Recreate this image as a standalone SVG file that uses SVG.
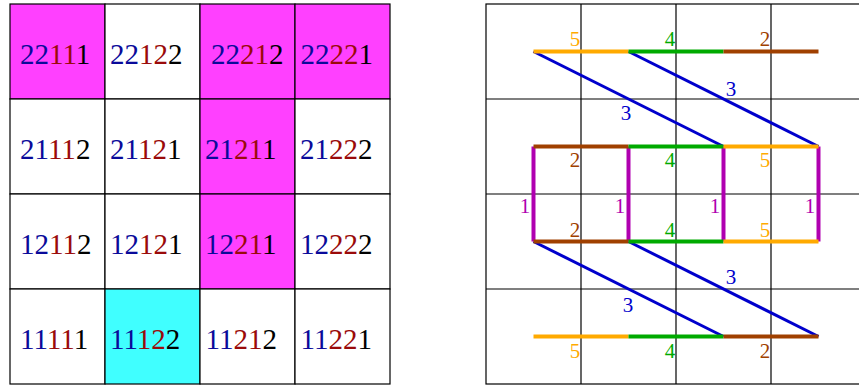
<svg xmlns="http://www.w3.org/2000/svg" width="859" height="388" viewBox="0 0 859 388">
<style>
.cell{stroke:#000;stroke-width:1.2}
.t{font-family:"Liberation Serif","Times New Roman",serif;font-size:29px}
.b{fill:#0a0a9a}.r{fill:#9a0a0a}.k{fill:#000}
.grid{stroke:#000;stroke-width:1.2;fill:none}
.lab{font-family:"Liberation Serif","Times New Roman",serif;font-size:21px;text-anchor:middle}
</style>
<rect width="859" height="388" fill="#fff"/>
<g id="left-grid">
<g id="c22111"><rect class="cell" x="10" y="4" width="95" height="95" fill="#ff40ff"/><text class="t" x="20" y="63.5"><tspan class="b">22</tspan><tspan class="r">11</tspan><tspan class="k">1</tspan></text></g>
<g id="c22122"><rect class="cell" x="105" y="4" width="95" height="95" fill="#fff"/><text class="t" x="110" y="63.5"><tspan class="b">22</tspan><tspan class="r">12</tspan><tspan class="k">2</tspan></text></g>
<g id="c22212"><rect class="cell" x="200" y="4" width="95" height="95" fill="#ff40ff"/><text class="t" x="211" y="63.5"><tspan class="b">22</tspan><tspan class="r">21</tspan><tspan class="k">2</tspan></text></g>
<g id="c22221"><rect class="cell" x="295" y="4" width="95" height="95" fill="#ff40ff"/><text class="t" x="300.5" y="63.5"><tspan class="b">22</tspan><tspan class="r">22</tspan><tspan class="k">1</tspan></text></g>
<g id="c21112"><rect class="cell" x="10" y="99" width="95" height="95" fill="#fff"/><text class="t" x="20" y="158.5"><tspan class="b">21</tspan><tspan class="r">11</tspan><tspan class="k">2</tspan></text></g>
<g id="c21121"><rect class="cell" x="105" y="99" width="95" height="95" fill="#fff"/><text class="t" x="110" y="158.5"><tspan class="b">21</tspan><tspan class="r">12</tspan><tspan class="k">1</tspan></text></g>
<g id="c21211"><rect class="cell" x="200" y="99" width="95" height="95" fill="#ff40ff"/><text class="t" x="205" y="158.5"><tspan class="b">21</tspan><tspan class="r">21</tspan><tspan class="k">1</tspan></text></g>
<g id="c21222"><rect class="cell" x="295" y="99" width="95" height="95" fill="#fff"/><text class="t" x="300" y="158.5"><tspan class="b">21</tspan><tspan class="r">22</tspan><tspan class="k">2</tspan></text></g>
<g id="c12112"><rect class="cell" x="10" y="194" width="95" height="95" fill="#fff"/><text class="t" x="20" y="253.5"><tspan class="b">12</tspan><tspan class="r">11</tspan><tspan class="k">2</tspan></text></g>
<g id="c12121"><rect class="cell" x="105" y="194" width="95" height="95" fill="#fff"/><text class="t" x="110" y="253.5"><tspan class="b">12</tspan><tspan class="r">12</tspan><tspan class="k">1</tspan></text></g>
<g id="c12211"><rect class="cell" x="200" y="194" width="95" height="95" fill="#ff40ff"/><text class="t" x="205" y="253.5"><tspan class="b">12</tspan><tspan class="r">21</tspan><tspan class="k">1</tspan></text></g>
<g id="c12222"><rect class="cell" x="295" y="194" width="95" height="95" fill="#fff"/><text class="t" x="300" y="253.5"><tspan class="b">12</tspan><tspan class="r">22</tspan><tspan class="k">2</tspan></text></g>
<g id="c11111"><rect class="cell" x="10" y="289" width="95" height="95" fill="#fff"/><text class="t" x="20" y="348.5"><tspan class="b">11</tspan><tspan class="r">11</tspan><tspan class="k">1</tspan></text></g>
<g id="c11122"><rect class="cell" x="105" y="289" width="95" height="95" fill="#40ffff"/><text class="t" x="110" y="348.5"><tspan class="b">11</tspan><tspan class="r">12</tspan><tspan class="k">2</tspan></text></g>
<g id="c11212"><rect class="cell" x="200" y="289" width="95" height="95" fill="#fff"/><text class="t" x="205.5" y="348.5"><tspan class="b">11</tspan><tspan class="r">21</tspan><tspan class="k">2</tspan></text></g>
<g id="c11221"><rect class="cell" x="295" y="289" width="95" height="95" fill="#fff"/><text class="t" x="300.5" y="348.5"><tspan class="b">11</tspan><tspan class="r">22</tspan><tspan class="k">1</tspan></text></g>
</g>
<g id="right-grid" class="grid">
<rect x="486" y="4" width="380" height="380"/>
<line x1="581" y1="4" x2="581" y2="384"/>
<line x1="676" y1="4" x2="676" y2="384"/>
<line x1="771" y1="4" x2="771" y2="384"/>
<line x1="486" y1="99" x2="866" y2="99"/>
<line x1="486" y1="194" x2="866" y2="194"/>
<line x1="486" y1="289" x2="866" y2="289"/>
</g>
<g id="connectors">
<g stroke="#0000cc" stroke-width="3">
<line x1="533.5" y1="51.5" x2="723.5" y2="146.5"/>
<line x1="628.5" y1="51.5" x2="818.5" y2="146.5"/>
<line x1="533.5" y1="241.5" x2="723.5" y2="336.5"/>
<line x1="628.5" y1="241.5" x2="818.5" y2="336.5"/>
</g>
<g stroke="#b000b0" stroke-width="4">
<line x1="533.5" y1="146.5" x2="533.5" y2="241.5"/>
<line x1="628.5" y1="146.5" x2="628.5" y2="241.5"/>
<line x1="723.5" y1="146.5" x2="723.5" y2="241.5"/>
<line x1="818.5" y1="146.5" x2="818.5" y2="241.5"/>
</g>
<g stroke-width="4">
<line x1="533.5" y1="51.5" x2="628.5" y2="51.5" stroke="#ffaa00"/>
<line x1="628.5" y1="51.5" x2="723.5" y2="51.5" stroke="#00aa00"/>
<line x1="723.5" y1="51.5" x2="818.5" y2="51.5" stroke="#a04000"/>
<line x1="533.5" y1="146.5" x2="628.5" y2="146.5" stroke="#a04000"/>
<line x1="628.5" y1="146.5" x2="723.5" y2="146.5" stroke="#00aa00"/>
<line x1="723.5" y1="146.5" x2="818.5" y2="146.5" stroke="#ffaa00"/>
<line x1="533.5" y1="241.5" x2="628.5" y2="241.5" stroke="#a04000"/>
<line x1="628.5" y1="241.5" x2="723.5" y2="241.5" stroke="#00aa00"/>
<line x1="723.5" y1="241.5" x2="818.5" y2="241.5" stroke="#ffaa00"/>
<line x1="533.5" y1="336.5" x2="628.5" y2="336.5" stroke="#ffaa00"/>
<line x1="628.5" y1="336.5" x2="723.5" y2="336.5" stroke="#00aa00"/>
<line x1="723.5" y1="336.5" x2="818.5" y2="336.5" stroke="#a04000"/>
</g>
<g class="lab">
<text x="575" y="46" fill="#ffaa00">5</text>
<text x="670" y="46" fill="#00aa00">4</text>
<text x="765" y="46" fill="#a04000">2</text>
<text x="575" y="166.5" fill="#a04000">2</text>
<text x="670" y="166.5" fill="#00aa00">4</text>
<text x="765" y="166.5" fill="#ffaa00">5</text>
<text x="575" y="236.5" fill="#a04000">2</text>
<text x="670" y="236.5" fill="#00aa00">4</text>
<text x="765" y="236.5" fill="#ffaa00">5</text>
<text x="575" y="357.5" fill="#ffaa00">5</text>
<text x="670" y="357.5" fill="#00aa00">4</text>
<text x="765" y="357.5" fill="#a04000">2</text>
<text x="525" y="212.5" fill="#b000b0">1</text>
<text x="620" y="212.5" fill="#b000b0">1</text>
<text x="715" y="212.5" fill="#b000b0">1</text>
<text x="810" y="212.5" fill="#b000b0">1</text>
<text x="626" y="120" fill="#0000cc">3</text>
<text x="731" y="95.5" fill="#0000cc">3</text>
<text x="628" y="311.5" fill="#0000cc">3</text>
<text x="731" y="284" fill="#0000cc">3</text>
</g>
</g>
</svg>
